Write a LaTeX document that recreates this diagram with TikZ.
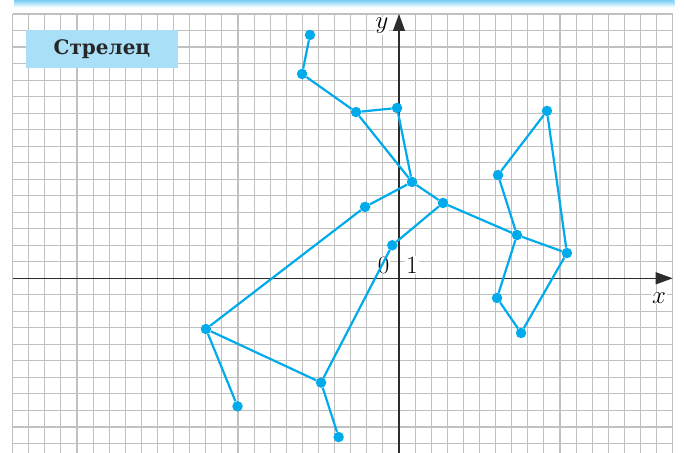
\documentclass[tikz,border=0pt]{standalone}
\usepackage[no-math]{fontspec}
\setmainfont{DejaVu Serif}
\usetikzlibrary{arrows.meta}
\definecolor{starblue}{RGB}{0,170,235}
\definecolor{tagblue}{RGB}{170,223,248}
\definecolor{gridgray}{RGB}{192,192,192}
\definecolor{axisgray}{RGB}{45,45,45}
\definecolor{topblue}{RGB}{120,205,245}
\tikzset{
  gridline/.style={draw=gridgray,line width=1.1pt},
  axis/.style={draw=axisgray,line width=1.4pt,-{Triangle[length=17pt,width=12pt]}},
  link/.style={draw=starblue,line width=2.2pt},
  star/.style={circle,fill=starblue,inner sep=0pt,minimum size=10.5pt},
  axlabel/.style={fill=white,inner sep=1pt,font=\fontsize{25}{25}\selectfont},
  tag/.style={fill=tagblue,minimum width=152pt,minimum height=38pt,inner sep=0pt,text=black!85,font=\bfseries\fontsize{20}{22}\selectfont}
}

\begin{document}
\begin{tikzpicture}[x=16.1pt,y=16.52pt]
  \useasboundingbox (-399pt,-173.7pt) rectangle (285pt,278.3pt);
  \shade[top color=topblue,bottom color=white] (-23.9,16.4) rectangle (17.1,16.846);
  % grid
  \foreach \i in {-24,...,17} \draw[gridline] (\i,-10.6) -- (\i,16);
  \foreach \j in {-10,...,16} \draw[gridline] (-24,\j) -- (17,\j);
  \draw[axis] (-24,0) -- (17,0);
  \draw[axis] (0,-10.6) -- (0,16);
  \node[axlabel] (xlab) at (16.15,-1.19) {$x$};
  \node[axlabel] (ylab) at (-1.06,15.27) {$y$};
  \node[axlabel,font=\fontsize{24}{24}\selectfont] (zero) at (-0.96,0.8) {$0$};
  \node[axlabel,font=\fontsize{24}{24}\selectfont] (one) at (0.81,0.8) {$1$};
  \node[tag] (name) at (-18.45,13.9) {Стрелец};
  % stars
  \node[star] (A) at (-5.53,14.73) {}; \node[star] (B) at (-6.02,12.37) {}; \node[star] (C) at (-2.67,10.06) {};
  \node[star] (D) at (-0.12,10.31) {}; \node[star] (E) at (0.81,5.83) {}; \node[star] (F) at (-2.11,4.32) {};
  \node[star] (G) at (-0.42,2.0) {}; \node[star] (H) at (2.73,4.56) {}; \node[star] (I) at (7.33,2.62) {};
  \node[star] (J) at (10.43,1.53) {}; \node[star] (K) at (9.19,10.13) {}; \node[star] (L) at (6.15,6.25) {};
  \node[star] (M) at (6.09,-1.19) {}; \node[star] (N) at (7.58,-3.31) {}; \node[star] (O) at (-11.99,-3.07) {};
  \node[star] (P) at (-10.03,-7.75) {}; \node[star] (Q) at (-4.84,-6.31) {}; \node[star] (R) at (-3.75,-9.61) {};
  % lines
  \draw[link] (A)--(B)--(C)--(D)--(E)--(C);
  \draw[link] (E)--(F)--(O)--(P);
  \draw[link] (O)--(Q)--(R);
  \draw[link] (Q)--(G)--(H)--(E);
  \draw[link] (H)--(I)--(J)--(K)--(L)--(I)--(M)--(N)--(J);
\end{tikzpicture}
\end{document}
